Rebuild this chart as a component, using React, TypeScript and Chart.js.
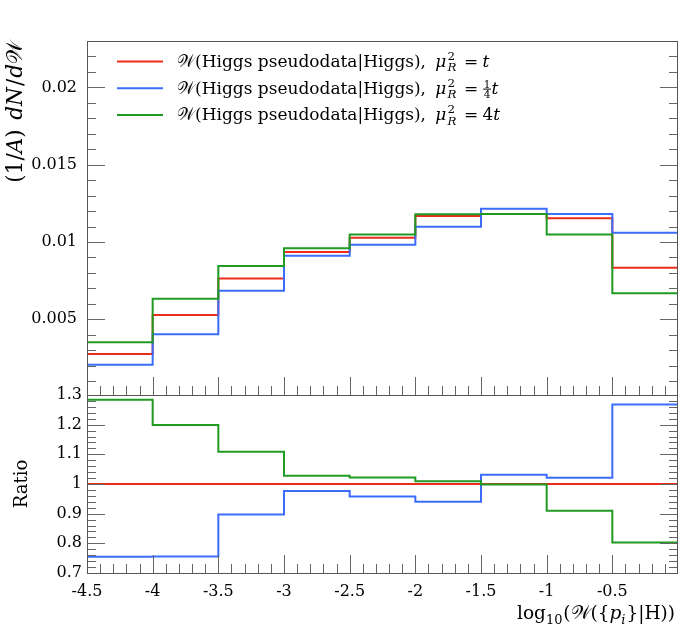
import React, { useEffect, useRef } from "react";
import { Chart, registerables } from "chart.js";

Chart.register(...registerables);

// Bin edges of log10(W({p_i}|H))
const binEdges = [-4.5, -4, -3.5, -3, -2.5, -2, -1.5, -1, -0.5, 0];

// (1/A) dN/dW per bin for the three renormalisation-scale choices
const muT = [0.00275, 0.00528, 0.00764, 0.00935, 0.01027, 0.01168, 0.01181, 0.01153, 0.00833];
const muQuarterT = [0.00206, 0.00403, 0.00685, 0.00911, 0.00982, 0.01099, 0.01215, 0.01181, 0.0106];
const muFourT = [0.00351, 0.00633, 0.00845, 0.00959, 0.01049, 0.01179, 0.01181, 0.01049, 0.00668];

// Ratio to the mu_R^2 = t reference
const ratioT = [1, 1, 1, 1, 1, 1, 1, 1, 1];
const ratioQuarterT = [0.755, 0.756, 0.897, 0.976, 0.958, 0.94, 1.031, 1.021, 1.268];
const ratioFourT = [1.284, 1.199, 1.109, 1.028, 1.022, 1.009, 0.998, 0.91, 0.803];

// Axis ticks
const xTickValues = [-4.5, -4, -3.5, -3, -2.5, -2, -1.5, -1, -0.5];
const xTickLabels = ["-4.5", "-4", "-3.5", "-3", "-2.5", "-2", "-1.5", "-1", "-0.5"];
const yTickValues = [0.005, 0.01, 0.015, 0.02];
const yTickLabels = ["0.005", "0.01", "0.015", "0.02"];
const ratioTickValues = [0.7, 0.8, 0.9, 1, 1.1, 1.2, 1.3];
const ratioTickLabels = ["0.7", "0.8", "0.9", "1", "1.1", "1.2", "1.3"];

const RED = "#ec2c1c";
const BLUE = "#3b6cfb";
const GREEN = "#1f9a22";
const FRAME = "#555555";
const TICK = "#666666";
const FONT = '"DejaVu Serif", "Liberation Serif", serif';

// Relative heights of the main panel and the ratio panel
const panelWeights = [354, 178];

function histPoints(values: number[]) {
  const pts = values.map((v, i) => ({ x: binEdges[i], y: v }));
  pts.push({ x: binEdges[binEdges.length - 1], y: values[values.length - 1] });
  return pts;
}

function setFont(ctx: CanvasRenderingContext2D, px: number, italic: boolean) {
  ctx.font = `${italic ? "italic " : ""}${px}px ${FONT}`;
}

// Minimal math-ish text layout: plain runs, gaps, sub/superscripts and stacked fractions.
function rich(ctx: CanvasRenderingContext2D, pieces: any[], x: number, y: number, size: number, draw = true) {
  let cx = x;
  for (const p of pieces) {
    if (p.gap !== undefined) {
      cx += p.gap * size;
    } else if (p.frac) {
      const s = size * 0.62;
      setFont(ctx, s, false);
      const wn = ctx.measureText(p.frac[0]).width;
      const wd = ctx.measureText(p.frac[1]).width;
      const w = Math.max(wn, wd) + size * 0.14;
      if (draw) {
        const bar = y - size * 0.27;
        ctx.fillText(p.frac[0], cx + (w - wn) / 2, bar - size * 0.08);
        ctx.fillText(p.frac[1], cx + (w - wd) / 2, bar + size * 0.52);
        ctx.fillRect(cx + size * 0.04, bar - 0.5, w - size * 0.08, 1);
      }
      cx += w;
    } else if (p.sup !== undefined || p.sub !== undefined) {
      const s = size * 0.7;
      let w = 0;
      if (p.sup !== undefined) {
        setFont(ctx, s, !!p.supIt);
        if (draw) ctx.fillText(p.sup, cx, y - size * 0.42);
        w = Math.max(w, ctx.measureText(p.sup).width);
      }
      if (p.sub !== undefined) {
        setFont(ctx, s, !!p.subIt);
        if (draw) ctx.fillText(p.sub, cx, y + size * 0.26);
        w = Math.max(w, ctx.measureText(p.sub).width);
      }
      cx += w + size * 0.05;
    } else {
      setFont(ctx, size, !!p.it);
      if (draw) ctx.fillText(p.t, cx, y);
      cx += ctx.measureText(p.t).width;
    }
  }
  return cx - x;
}

const SCRIPT_W = { t: "\u{1D4B2}" };

const legendPrefix = [
  SCRIPT_W,
  { t: "(Higgs pseudodata|Higgs)," },
  { gap: 0.55 },
  { t: "\u03BC", it: true },
  { gap: 0.06 },
  { sup: "2", sub: "R", subIt: true },
  { gap: 0.4 },
  { t: "=" },
  { gap: 0.25 },
];
const legendRows = [
  { color: RED, pieces: [...legendPrefix, { t: "t", it: true }] },
  { color: BLUE, pieces: [...legendPrefix, { frac: ["1", "4"] }, { t: "t", it: true }] },
  { color: GREEN, pieces: [...legendPrefix, { t: "4" }, { t: "t", it: true }] },
];

const yTitle = [
  { t: "(1/" },
  { t: "A", it: true },
  { t: ")" },
  { gap: 0.45 },
  { t: "dN", it: true },
  { gap: 0.05 },
  { t: "/" },
  { gap: 0.05 },
  { t: "d", it: true },
  SCRIPT_W,
];
const ratioTitle = [{ t: "Ratio" }];
const xTitle = [
  { t: "log" },
  { sub: "10" },
  { t: "(" },
  SCRIPT_W,
  { t: "({" },
  { t: "p", it: true },
  { sub: "i", subIt: true },
  { t: "}|H))" },
];

function drawTickSet(
  ctx: CanvasRenderingContext2D,
  chart: any,
  yScale: any,
  yMajors: number[],
  yMinorStep: number,
  xMinorStep: number
) {
  const xs = chart.scales.x;
  const left = chart.chartArea.left;
  const right = chart.chartArea.right;
  const top = yScale.top;
  const bottom = yScale.bottom;
  const MAJOR = 18;
  const MINOR = 9;
  ctx.strokeStyle = TICK;
  ctx.lineWidth = 1;
  ctx.beginPath();
  const isMajor = (v: number, majors: number[], step: number) => majors.some((m) => Math.abs(m - v) < step / 10);
  // y ticks on both vertical edges
  const kLo = Math.ceil(yScale.min / yMinorStep - 1e-6);
  const kHi = Math.floor(yScale.max / yMinorStep + 1e-6);
  for (let k = kLo; k <= kHi; k++) {
    const v = k * yMinorStep;
    const py = Math.round(yScale.getPixelForValue(v)) + 0.5;
    if (py <= top + 1 || py >= bottom - 1) continue;
    const len = isMajor(v, yMajors, yMinorStep) ? MAJOR : MINOR;
    ctx.moveTo(left, py);
    ctx.lineTo(left + len, py);
    ctx.moveTo(right, py);
    ctx.lineTo(right - len, py);
  }
  // x ticks on the bottom edge
  const jLo = Math.ceil(xs.min / xMinorStep - 1e-6);
  const jHi = Math.floor(xs.max / xMinorStep + 1e-6);
  for (let j = jLo; j <= jHi; j++) {
    const v = j * xMinorStep;
    const px = Math.round(xs.getPixelForValue(v)) + 0.5;
    if (px <= left + 1 || px >= right - 1) continue;
    const len = isMajor(v, xTickValues, xMinorStep) ? MAJOR : MINOR;
    ctx.moveTo(px, bottom);
    ctx.lineTo(px, bottom - len);
  }
  ctx.stroke();
}

const panelPlugin = {
  id: "panels",
  afterLayout(chart: any) {
    const area = chart.chartArea;
    const split = Math.round(area.top + ((area.bottom - area.top) * panelWeights[0]) / (panelWeights[0] + panelWeights[1]));
    const main = chart.scales.y;
    const ratio = chart.scales.yr;
    Object.assign(main, { top: area.top, bottom: split, height: split - area.top, left: 0, right: area.left, width: area.left });
    Object.assign(ratio, { top: split, bottom: area.bottom, height: area.bottom - split, left: 0, right: area.left, width: area.left });
    main.configure();
    ratio.configure();
  },
  afterDatasetsDraw(chart: any) {
    const ctx: CanvasRenderingContext2D = chart.ctx;
    const main = chart.scales.y;
    const ratio = chart.scales.yr;
    const { left, right } = chart.chartArea;
    ctx.save();
    drawTickSet(ctx, chart, main, yTickValues, 0.001, 0.1);
    drawTickSet(ctx, chart, ratio, ratioTickValues, 0.02, 0.1);
    ctx.strokeStyle = FRAME;
    ctx.lineWidth = 1;
    for (const s of [main, ratio]) {
      ctx.strokeRect(Math.round(left) + 0.5, Math.round(s.top) + 0.5, Math.round(right - left) - 1, Math.round(s.bottom - s.top));
    }
    ctx.restore();
  },
  afterDraw(chart: any) {
    const ctx: CanvasRenderingContext2D = chart.ctx;
    const main = chart.scales.y;
    const ratio = chart.scales.yr;
    const { right } = chart.chartArea;
    ctx.save();
    ctx.fillStyle = "#000";
    ctx.textBaseline = "alphabetic";
    ctx.textAlign = "left";

    // legend
    legendRows.forEach((row, i) => {
      const cy = main.top + 20.5 + i * 26.7;
      ctx.strokeStyle = row.color;
      ctx.lineWidth = 2;
      ctx.beginPath();
      ctx.moveTo(117, cy);
      ctx.lineTo(163, cy);
      ctx.stroke();
      ctx.fillStyle = "#000";
      rich(ctx, row.pieces, 177, cy + 5.5, 17);
    });

    // y title of the main panel, ending at the top of the frame
    const wy = rich(ctx, yTitle, 0, 0, 21.5, false);
    ctx.save();
    ctx.translate(22, main.top + wy);
    ctx.rotate(-Math.PI / 2);
    rich(ctx, yTitle, 0, 0, 21.5);
    ctx.restore();

    // y title of the ratio panel, centred
    const wr = rich(ctx, ratioTitle, 0, 0, 18, false);
    ctx.save();
    ctx.translate(27, (ratio.top + ratio.bottom) / 2 + wr / 2);
    ctx.rotate(-Math.PI / 2);
    rich(ctx, ratioTitle, 0, 0, 18);
    ctx.restore();

    // x title, right-aligned under the axis
    const wx = rich(ctx, xTitle, 0, 0, 18.5, false);
    rich(ctx, xTitle, right - 3 - wx, 619, 18.5);
    ctx.restore();
  },
};

const tickFont = { family: FONT, size: 16 };

export default function App() {
  const canvasRef = useRef<HTMLCanvasElement | null>(null);

  useEffect(() => {
    const canvas = canvasRef.current;
    if (!canvas) return;
    // lower "order" is painted last, i.e. on top
    const line = (label: string, values: number[], color: string, axis: string, order: number) => ({
      label,
      data: histPoints(values),
      yAxisID: axis,
      order,
      borderColor: color,
      backgroundColor: color,
      borderWidth: 2,
      pointRadius: 0,
      stepped: "before" as const,
      fill: false,
    });
    const chart = new Chart(canvas, {
      type: "line",
      data: {
        datasets: [
          line("W(Higgs pseudodata|Higgs), muR2 = t", muT, RED, "y", 2),
          line("W(Higgs pseudodata|Higgs), muR2 = t/4", muQuarterT, BLUE, "y", 1),
          line("W(Higgs pseudodata|Higgs), muR2 = 4t", muFourT, GREEN, "y", 0),
          line("ratio t", ratioT, RED, "yr", 2),
          line("ratio t/4", ratioQuarterT, BLUE, "yr", 1),
          line("ratio 4t", ratioFourT, GREEN, "yr", 0),
        ],
      },
      options: {
        animation: false,
        responsive: false,
        events: [],
        layout: { padding: { left: 0, right: 22, top: 41, bottom: 0 } },
        plugins: { legend: { display: false }, tooltip: { enabled: false } },
        scales: {
          x: {
            type: "linear",
            position: "bottom",
            min: binEdges[0],
            max: binEdges[binEdges.length - 1],
            grid: { display: false, drawTicks: false },
            border: { display: false },
            ticks: {
              font: tickFont,
              color: "#000",
              padding: 9,
              maxRotation: 0,
              autoSkip: false,
              callback: (_v: any, i: number) => xTickLabels[i],
            },
            afterBuildTicks: (s: any) => {
              s.ticks = xTickValues.map((value) => ({ value }));
            },
            afterFit: (s: any) => {
              s.height = 59;
            },
          },
          yr: {
            type: "linear",
            position: "left",
            stack: "panels",
            stackWeight: panelWeights[1],
            min: 0.7,
            max: 1.3,
            grid: { display: false, drawTicks: false },
            border: { display: false },
            ticks: {
              font: tickFont,
              color: "#000",
              padding: 5,
              autoSkip: false,
              callback: (_v: any, i: number) => ratioTickLabels[i],
            },
            afterBuildTicks: (s: any) => {
              s.ticks = ratioTickValues.map((value) => ({ value }));
            },
            afterFit: (s: any) => {
              s.width = 87;
            },
          },
          y: {
            type: "linear",
            position: "left",
            stack: "panels",
            stackWeight: panelWeights[0],
            min: 0.0001,
            max: 0.023,
            grid: { display: false, drawTicks: false },
            border: { display: false },
            ticks: {
              font: tickFont,
              color: "#000",
              padding: 10,
              autoSkip: false,
              callback: (_v: any, i: number) => yTickLabels[i],
            },
            afterBuildTicks: (s: any) => {
              s.ticks = yTickValues.map((value) => ({ value }));
            },
            afterFit: (s: any) => {
              s.width = 87;
            },
          },
        },
      },
      plugins: [panelPlugin],
    } as any);
    return () => chart.destroy();
  }, []);

  return (
    <div style={{ position: "fixed", left: 0, top: 0, width: 700, height: 632, background: "#fff" }}>
      <canvas ref={canvasRef} width={700} height={632} style={{ display: "block", width: 700, height: 632 }} />
    </div>
  );
}
